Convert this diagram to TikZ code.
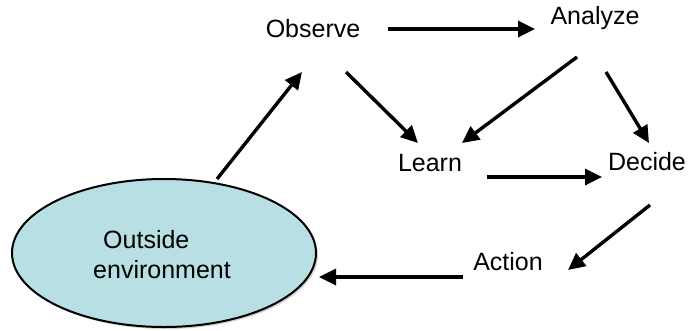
\documentclass[tikz,border=0pt]{standalone}
\usepackage{fontspec}
\setmainfont{Liberation Sans}
\usetikzlibrary{arrows.meta,shapes.geometric}
\definecolor{envfill}{HTML}{B8DFE3}
\begin{document}
\begin{tikzpicture}[x=1pt,y=-1pt,
  lbl/.style={font=\fontsize{25}{30}\selectfont, inner sep=0pt},
  arr/.style={line width=3.4pt, -{Triangle[length=17pt,width=16pt]}},
  envshape/.style={ellipse, draw=black, line width=2pt, fill=envfill,
     minimum width=304pt, minimum height=148pt, inner sep=0pt}]
\useasboundingbox (0,0) rectangle (688,330);
% shadow of the ellipse
\fill[gray!35] (166,255) ellipse [x radius=152pt, y radius=74pt];
\node[envshape] (env) at (164,253) {};
\node[lbl, align=left] (envtxt) at (162,255) {\hspace*{10pt}Outside\\environment};
\node[lbl] (obs) at (313,29) {Observe};
\node[lbl] (ana) at (595,18) {Analyze};
\node[lbl] (learn) at (430,163) {Learn};
\node[lbl] (dec) at (647,162) {Decide};
\node[lbl] (act) at (508,262) {Action};
\draw[arr] ([shift={(75,0)}]obs.center) -- ([shift={(-60,11)}]ana.center);
\draw[arr] ([shift={(33,43)}]obs.center) -- ([shift={(-12,-20)}]learn.center);
\draw[arr] ([shift={(-18,39)}]ana.center) -- ([shift={(32,-20)}]learn.center);
\draw[arr] ([shift={(11,54)}]ana.center) -- ([shift={(2,-19)}]dec.center);
\draw[arr] ([shift={(57,14)}]learn.center) -- ([shift={(-45,15)}]dec.center);
\draw[arr] ([shift={(3,43)}]dec.center) -- ([shift={(60,8)}]act.center);
\draw[arr] ([shift={(-45,15)}]act.center) -- ([shift={(155,24)}]env.center);
\draw[arr] ([shift={(53,-74)}]env.center) -- ([shift={(-11,43)}]obs.center);
\end{tikzpicture}
\end{document}
